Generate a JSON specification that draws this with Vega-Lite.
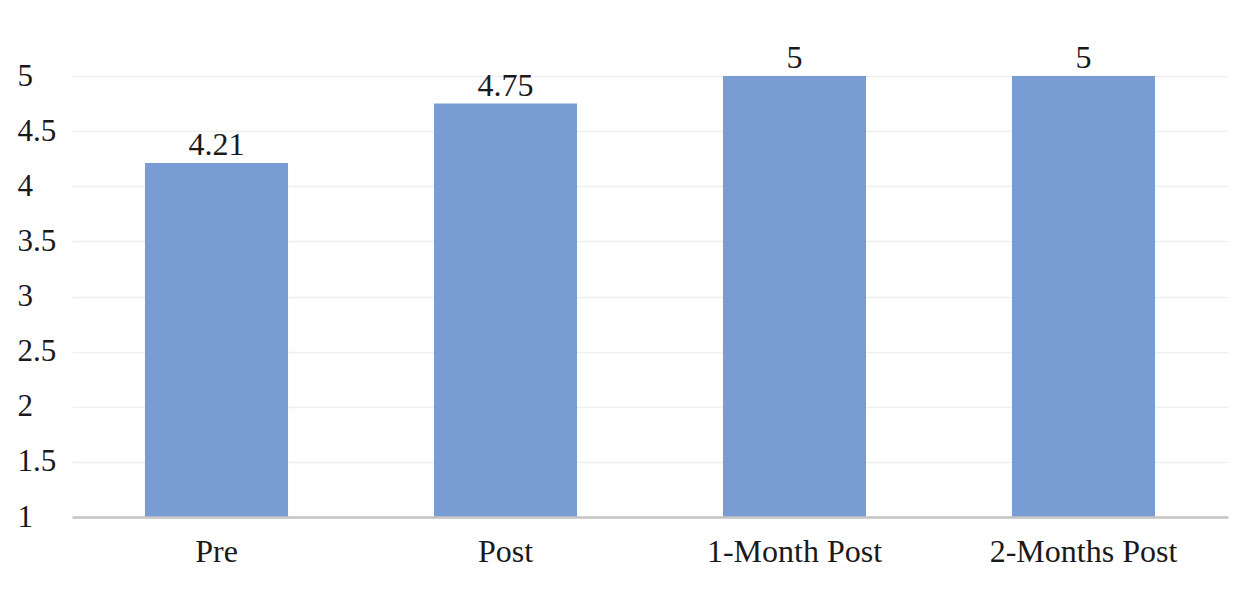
{
  "$schema": "https://vega.github.io/schema/vega-lite/v6.json",
  "width": 1156,
  "height": 441,
  "autosize": {"type": "none"},
  "padding": {"left": 72, "top": 76, "right": 22, "bottom": 79},
  "background": "white",
  "config": {
    "view": {"stroke": null},
    "font": "'Liberation Serif', 'Times New Roman', serif"
  },
  "data": {
    "values": [
      {"phase": "Pre", "score": 4.21, "label": "4.21"},
      {"phase": "Post", "score": 4.75, "label": "4.75"},
      {"phase": "1-Month Post", "score": 5, "label": "5"},
      {"phase": "2-Months Post", "score": 5, "label": "5"}
    ]
  },
  "encoding": {
    "x": {
      "field": "phase",
      "type": "nominal",
      "sort": null,
      "scale": {"paddingInner": 0.505, "paddingOuter": 0.2525},
      "axis": {
        "title": null,
        "labelAngle": 0,
        "labelFont": "'Liberation Serif', 'Times New Roman', serif",
        "labelFontSize": 32,
        "labelColor": "#1a1a1a",
        "labelPadding": 19,
        "labelLimit": 0,
        "ticks": false,
        "tickSize": 0,
        "domainColor": "#c4c4c4",
        "domainWidth": 2.5,
        "zindex": 1
      }
    },
    "y": {
      "field": "score",
      "type": "quantitative",
      "scale": {"domain": [1, 5], "zero": false, "nice": false},
      "axis": {
        "title": null,
        "values": [1, 1.5, 2, 2.5, 3, 3.5, 4, 4.5, 5],
        "format": "~g",
        "labelFont": "'Liberation Serif', 'Times New Roman', serif",
        "labelFontSize": 31,
        "labelColor": "#1a1a1a",
        "labelAlign": "left",
        "labelPadding": 55,
        "ticks": false,
        "tickSize": 0,
        "domain": false,
        "grid": true,
        "gridColor": "#efefef",
        "gridWidth": 1.5
      }
    }
  },
  "layer": [
    {
      "mark": {"type": "bar", "color": "#7a9cd5"},
      "encoding": {"y2": {"datum": 1}}
    },
    {
      "mark": {"type": "text", "baseline": "alphabetic", "dy": -8, "font": "'Liberation Serif', 'Times New Roman', serif", "fontSize": 32, "color": "#1a1a1a"},
      "encoding": {"text": {"field": "label"}}
    }
  ]
}
